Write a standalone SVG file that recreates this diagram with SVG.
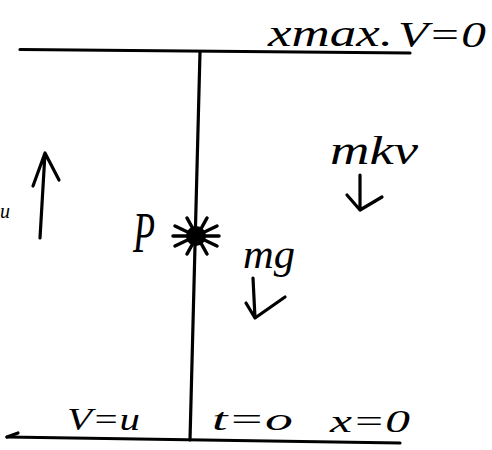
<svg xmlns="http://www.w3.org/2000/svg" width="492" height="450" viewBox="0 0 492 450">
<style>
.ln{stroke:#000;stroke-width:3.2;fill:none;stroke-linecap:round;stroke-linejoin:round}
.t{font-family:"Liberation Serif",serif;font-style:italic;fill:#000}
</style>
<rect width="492" height="450" fill="#fff"/>
<g id="connectors">
<path class="ln" d="M20 49.5 L410 53"/>
<path class="ln" d="M200 52 L190 440"/>
<path class="ln" d="M7 437 L400 443"/>
<path class="ln" d="M7 437 L18 433"/>
<path class="ln" d="M40 238 L45 153 M33 186 L45 153 L59 180"/>
<path class="ln" d="M360 175 L360 210 M347 195 L360 210 L382 197"/>
<path class="ln" d="M253 278 L255 318 M246 303 L255 318 L285 297"/>
</g>
<g id="top-label">
<text class="t" x="268" y="46" font-size="38" textLength="125" lengthAdjust="spacingAndGlyphs">xmax.</text>
<text class="t" x="398" y="47" font-size="36" textLength="88" lengthAdjust="spacingAndGlyphs">V=0</text>
</g>
<g id="particle-P">
<g stroke="#000" stroke-width="3.5" stroke-linecap="round">
<line x1="175" y1="226" x2="217" y2="246"/>
<line x1="175" y1="246" x2="217" y2="226"/>
<line x1="187" y1="218" x2="207" y2="254"/>
<line x1="207" y1="218" x2="187" y2="254"/>
<line x1="173" y1="236" x2="219" y2="236"/>
</g>
<circle cx="196" cy="236" r="10" fill="#000"/>
<text class="t" x="133" y="252" font-size="56" textLength="22" lengthAdjust="spacingAndGlyphs">P</text>
</g>
<g id="label-u">
<text class="t" x="0" y="218" font-size="22" textLength="10" lengthAdjust="spacingAndGlyphs">u</text>
</g>
<g id="label-mkv">
<text class="t" x="330" y="164" font-size="40" textLength="88" lengthAdjust="spacingAndGlyphs">mkv</text>
</g>
<g id="label-mg">
<text class="t" x="243" y="268" font-size="42" textLength="52" lengthAdjust="spacingAndGlyphs">mg</text>
</g>
<g id="bottom-labels">
<text class="t" x="67" y="430" font-size="32" textLength="73" lengthAdjust="spacingAndGlyphs">V=u</text>
<text class="t" x="212" y="430" font-size="32" textLength="81" lengthAdjust="spacingAndGlyphs">t=o</text>
<text class="t" x="330" y="432" font-size="32" textLength="80" lengthAdjust="spacingAndGlyphs">x=0</text>
</g>
</svg>
